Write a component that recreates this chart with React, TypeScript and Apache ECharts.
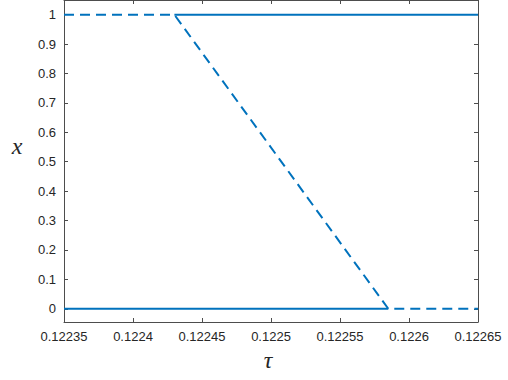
import React, { useEffect, useRef } from "react";
import * as echarts from "echarts";

const xTicks = [0.12235, 0.1224, 0.12245, 0.1225, 0.12255, 0.1226, 0.12265];
const yTicks = [0, 0.1, 0.2, 0.3, 0.4, 0.5, 0.6, 0.7, 0.8, 0.9, 1];
const stableTopTau = [0.12243, 0.12265];
const stableTopX = [1, 1];
const stableBottomTau = [0.12235, 0.122585];
const stableBottomX = [0, 0];
const unstableTau = [0.12235, 0.12243, 0.122585, 0.12265];
const unstableX = [1, 1, 0, 0];

const BLUE = "#0072BD";
const AX = "#262626";

export default function App() {
  const ref = useRef<HTMLDivElement>(null);
  useEffect(() => {
    document.body.style.margin = "0";
    const chart = echarts.init(ref.current!, null, { renderer: "svg" });
    const zip = (a: number[], b: number[]) => a.map((v, i) => [v, b[i]]);
    const fmtX = (v: number) => String(Number(v.toFixed(5)));
    const fmtY = (v: number) => String(Number(v.toFixed(1)));
    const xBase = {
      type: "value" as const,
      min: xTicks[0],
      max: xTicks[xTicks.length - 1],
      interval: 0.00005,
      splitLine: { show: false },
      axisLine: { onZero: false, lineStyle: { color: "#4d4d4d", width: 1 } },
      axisTick: { inside: true, length: 4, lineStyle: { color: "#4d4d4d" } },
    };
    const yBase = {
      type: "value" as const,
      min: -0.045,
      max: 1.05,
      splitLine: { show: false },
      axisLine: { onZero: false, lineStyle: { color: "#4d4d4d", width: 1 } },
      axisTick: { inside: true, length: 4, customValues: yTicks, lineStyle: { color: "#4d4d4d" } },
    };
    chart.setOption({
      animation: false,
      grid: { left: 64, right: 30, top: 0, bottom: 58, containLabel: false },
      xAxis: [
        {
          ...xBase,
          position: "bottom",
          axisLabel: {
            formatter: fmtX,
            color: AX,
            fontSize: 13,
            fontFamily: "Liberation Sans",
            margin: 8,
            showMinLabel: true,
            showMaxLabel: true,
          },
        },
        { ...xBase, position: "top", axisLabel: { show: false } },
      ],
      yAxis: [
        {
          ...yBase,
          position: "left",
          axisLabel: {
            customValues: yTicks,
            formatter: fmtY,
            color: AX,
            fontSize: 13,
            fontFamily: "Liberation Sans",
            margin: 8,
          },
        },
        { ...yBase, position: "right", axisLabel: { show: false } },
      ],
      series: [
        {
          type: "line",
          data: zip(stableTopTau, stableTopX),
          symbol: "none",
          lineStyle: { color: BLUE, width: 2 },
          z: 3,
        },
        {
          type: "line",
          data: zip(stableBottomTau, stableBottomX),
          symbol: "none",
          lineStyle: { color: BLUE, width: 2 },
          z: 3,
        },
        {
          type: "line",
          data: zip(unstableTau, unstableX),
          symbol: "none",
          lineStyle: { color: BLUE, width: 2, type: [10, 6] },
          z: 2,
        },
      ],
      graphic: [
        {
          type: "text",
          x: 17,
          y: 146,
          style: {
            text: "x",
            font: "italic 24px 'Liberation Serif', serif",
            fill: AX,
            align: "center",
            verticalAlign: "middle",
          },
        },
        {
          type: "text",
          x: 268,
          y: 360,
          style: {
            text: "τ",
            font: "italic 24px 'Liberation Serif', serif",
            fill: AX,
            align: "center",
            verticalAlign: "middle",
          },
        },
      ],
    });
    return () => chart.dispose();
  }, []);
  return <div ref={ref} style={{ width: 508, height: 380 }} />;
}
